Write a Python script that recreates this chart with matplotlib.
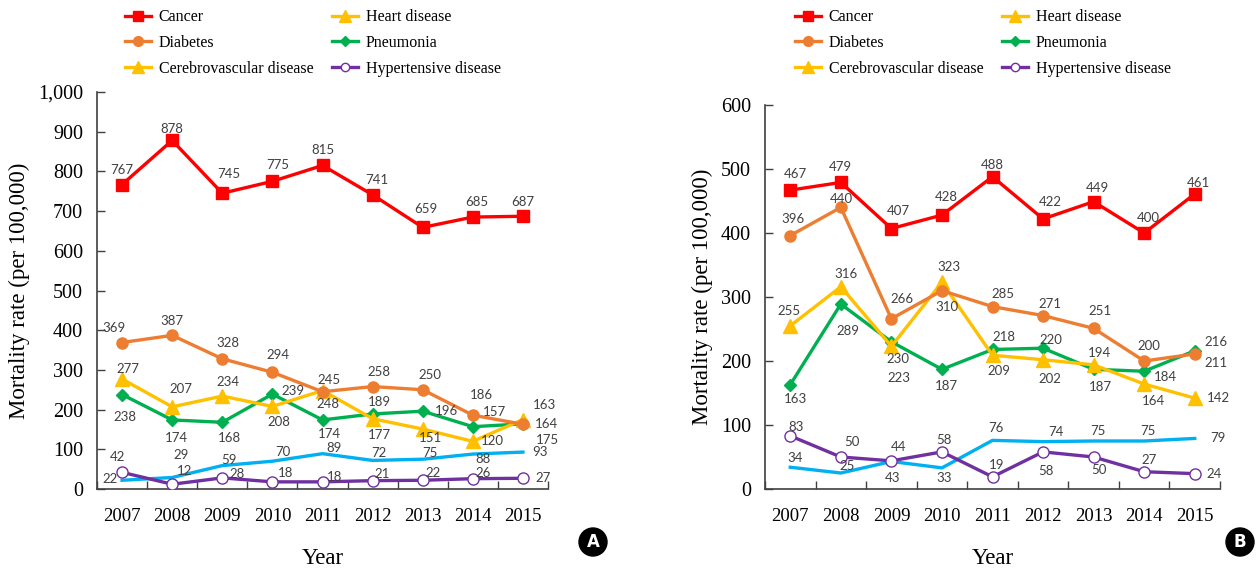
import numpy as np
import matplotlib
matplotlib.use("Agg")
import matplotlib.pyplot as plt
from matplotlib.lines import Line2D

years = ["2007", "2008", "2009", "2010", "2011", "2012", "2013", "2014", "2015"]

# panel A
a_cancer = [767, 878, 745, 775, 815, 741, 659, 685, 687]
a_diabetes = [369, 387, 328, 294, 245, 258, 250, 186, 163]
a_heart = [277, 207, 234, 208, 248, 177, 151, 120, 175]
a_pneumonia = [238, 174, 168, 239, 174, 189, 196, 157, 164]
a_cerebro = [22, 29, 59, 70, 89, 72, 75, 88, 93]
a_hyper = [42, 12, 28, 18, 18, 21, 22, 26, 27]

# panel B
b_cancer = [467, 479, 407, 428, 488, 422, 449, 400, 461]
b_diabetes = [396, 440, 266, 310, 285, 271, 251, 200, 211]
b_heart = [255, 316, 223, 323, 209, 202, 194, 164, 142]
b_pneumonia = [163, 289, 230, 187, 218, 220, 187, 184, 216]
b_cerebro = [34, 25, 43, 33, 76, 74, 75, 75, 79]
b_hyper = [83, 50, 44, 58, 19, 58, 50, 27, 24]

RED = "#FF0000"
ORANGE = "#ED7D31"
YELLOW = "#FFC000"
GREEN = "#00B050"
BLUE = "#00B0F0"
PURPLE = "#7030A0"
LABEL = "#404040"

SERIF = "Liberation Serif"
SANS = "Lato"

# label offsets in pixels (dx, dy up)
off_a = {
    "cancer": [(0, 15), (0, 11), (7, 19), (5, 16), (0, 15), (4, 15), (3, 18), (4, 15), (0, 14)],
    "diabetes": [(-8, 15), (0, 14), (6, 16), (6, 17), (6, 12), (6, 15), (7, 15), (9, 20), (22, 19)],
    "heart": [(6, 10), (9, 18), (6, 14), (6, -16), (5, -13), (7, -16), (8, -9), (20, 0), (24, -20)],
    "pneumonia": [(3, -22), (4, -18), (7, -16), (21, 3), (7, -14), (7, 12), (24, 0), (22, 15), (24, 0)],
    "cerebro": [(-12, 1), (9, 22), (7, 6), (10, 9), (12, 6), (6, 7), (7, 6), (10, -5), (17, 0)],
    "hyper": [(-5, 15), (12, 13), (15, 4), (13, 9), (12, 5), (10, 7), (10, 7), (10, 6), (20, 0)],
}
off_b = {
    "cancer": [(5, 16), (0, 15), (7, 18), (4, 18), (0, 12), (7, 17), (4, 14), (4, 15), (4, 11)],
    "diabetes": [(3, 17), (1, 8), (11, 20), (5, -16), (10, 13), (7, 12), (6, 17), (5, 15), (21, -9)],
    "heart": [(-1, 15), (5, 13), (8, -32), (7, 15), (6, -16), (7, -19), (6, 12), (9, -17), (24, 0)],
    "pneumonia": [(5, -14), (7, -27), (7, -17), (4, -17), (11, 12), (8, 8), (7, -18), (21, -6), (21, 9)],
    "cerebro": [(5, 9), (6, 7), (1, -17), (2, -10), (3, 12), (13, 10), (4, 10), (4, 10), (23, 0)],
    "hyper": [(6, 9), (11, 15), (7, 14), (2, 12), (4, 12), (3, -19), (5, -13), (5, 12), (19, 0)],
}

fig = plt.figure(figsize=(12.58, 5.68), dpi=100)
ax_a = fig.add_axes([97 / 1258, 79 / 568, 451 / 1258, 397 / 568])
ax_b = fig.add_axes([765 / 1258, 79 / 568, 455 / 1258, 384 / 568])


def draw_panel(ax, data, offs, ymax, step, badge, badge_x):
    x = np.arange(len(years))
    ax.plot(x, data["cerebro"], color=BLUE, lw=2.4, zorder=2)
    ax.plot(x, data["hyper"], color=PURPLE, lw=2.4, marker="o", ms=8,
            mfc="white", mec=PURPLE, mew=1.0, zorder=3)
    ax.plot(x, data["pneumonia"], color=GREEN, lw=2.4, marker="D", ms=6.5, zorder=4)
    ax.plot(x, data["heart"], color=YELLOW, lw=2.4, marker="^", ms=10, zorder=4)
    ax.plot(x, data["diabetes"], color=ORANGE, lw=2.4, marker="o", ms=8, zorder=5)
    ax.plot(x, data["cancer"], color=RED, lw=2.4, marker="s", ms=8.5, zorder=6)

    for key in ["cancer", "diabetes", "heart", "pneumonia", "cerebro", "hyper"]:
        for i, v in enumerate(data[key]):
            dx, dy = offs[key][i]
            ax.annotate(str(v), (x[i], v), xytext=(dx, dy), textcoords="offset pixels",
                        ha="center", va="center", fontsize=9.5, color=LABEL,
                        family=SANS, zorder=8)

    ax.set_xlim(-0.5, len(years) - 0.5)
    ax.set_ylim(0, ymax)
    ax.set_xticks(x)
    ax.set_xticklabels(years, family=SERIF, fontsize=13.5)
    ax.set_xticks(np.arange(-0.5, len(years)), minor=True)
    ax.tick_params(axis="x", which="major", length=0, pad=14)
    ax.tick_params(axis="x", which="minor", direction="in", length=6, width=1, color="#404040")
    yt = np.arange(0, ymax + 1, step)
    ax.set_yticks(yt)
    ax.set_yticklabels([f"{v:,}" for v in yt], family=SERIF, fontsize=14.5)
    ax.tick_params(axis="y", direction="in", length=6, width=1, color="#404040", pad=10)
    for s in ["top", "right"]:
        ax.spines[s].set_visible(False)
    for s in ["left", "bottom"]:
        ax.spines[s].set_color("#404040")
        ax.spines[s].set_linewidth(1.2)
    ax.set_xlabel("Year", family=SERIF, fontsize=16.5, labelpad=16)
    ax.set_ylabel("Mortality rate (per 100,000)", family=SERIF, fontsize=16.5, labelpad=6)

    fig.text(badge_x, 1 - 542 / 568, badge, ha="center", va="center", color="white",
             fontsize=12, fontweight="bold", family="DejaVu Sans",
             bbox=dict(boxstyle="circle,pad=0.3", fc="black", ec="black"))

    handles = [
        Line2D([], [], color=RED, lw=2.4, marker="s", ms=7),
        Line2D([], [], color=ORANGE, lw=2.4, marker="o", ms=7),
        Line2D([], [], color=YELLOW, lw=2.4, marker="^", ms=8),
        Line2D([], [], color=YELLOW, lw=2.4, marker="^", ms=8),
        Line2D([], [], color=GREEN, lw=2.4, marker="D", ms=5),
        Line2D([], [], color=PURPLE, lw=2.4, marker="o", ms=6, mfc="white", mec=PURPLE, mew=1.0),
    ]
    labels = ["Cancer", "Diabetes", "Cerebrovascular disease",
              "Heart disease", "Pneumonia", "Hypertensive disease"]
    return handles, labels


data_a = dict(cancer=a_cancer, diabetes=a_diabetes, heart=a_heart,
              pneumonia=a_pneumonia, cerebro=a_cerebro, hyper=a_hyper)
data_b = dict(cancer=b_cancer, diabetes=b_diabetes, heart=b_heart,
              pneumonia=b_pneumonia, cerebro=b_cerebro, hyper=b_hyper)

h, l = draw_panel(ax_a, data_a, off_a, 1000, 100, "A", 593 / 1258)
draw_panel(ax_b, data_b, off_b, 600, 100, "B", 1240 / 1258)

for x0 in [125 / 1258, 795 / 1258]:
    fig.legend(h, l, ncol=2, loc="center left", bbox_to_anchor=(x0, 1 - 43 / 568),
               frameon=False, prop={"family": SERIF, "size": 11.5},
               handlelength=1.6, labelspacing=0.62, columnspacing=1.2,
               handletextpad=0.5, borderpad=0, borderaxespad=0)

fig.savefig("out.png", dpi=100)
